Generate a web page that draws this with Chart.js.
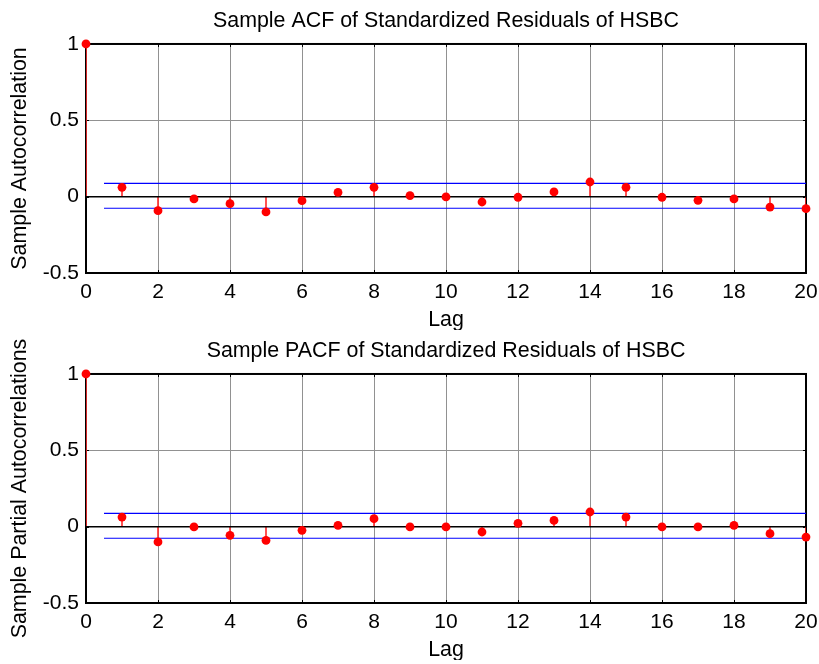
<!DOCTYPE html>
<html>
<head>
<meta charset="utf-8">
<script src="https://cdn.jsdelivr.net/npm/chart.js@4/dist/chart.umd.min.js"></script>
<style>
  body { margin: 0; background: #fff; width: 819px; height: 664px; overflow: hidden; }
  canvas { display: block; }
</style>
</head>
<body>
<canvas id="acfChart" width="819" height="330"></canvas>
<canvas id="pacfChart" width="819" height="330"></canvas>
<script>
// === DATA ===
const lags = [0, 1, 2, 3, 4, 5, 6, 7, 8, 9, 10, 11, 12, 13, 14, 15, 16, 17, 18, 19, 20];
const acfValues = [1, 0.061, -0.092, -0.015, -0.046, -0.100, -0.026, 0.028, 0.061, 0.007,
    -0.002, -0.035, -0.004, 0.031, 0.096, 0.061, -0.004, -0.024, -0.015, -0.068, -0.079];
const pacfValues = [1, 0.063, -0.100, -0.002, -0.057, -0.090, -0.024, 0.009, 0.052, -0.002,
    -0.002, -0.035, 0.022, 0.041, 0.096, 0.063, -0.002, -0.002, 0.009, -0.046, -0.068];
const acfBounds = [0.087, -0.076];
const pacfBounds = [0.087, -0.076];
const boundsStart = 0.5;
const xRange = [0, 20];
const yRange = [-0.5, 1];
const xStep = 2;
const yStep = 0.5;

Chart.defaults.color = '#000';
Chart.defaults.font.family = '"Liberation Sans", Arial, sans-serif';

// box round the plot area plus small inward tick marks on all four sides
const boxPlugin = {
    id: 'box',
    beforeDatasetsDraw(chart) {
        const { ctx, chartArea: a, scales } = chart;
        const tl = 3;
        ctx.save();
        ctx.strokeStyle = '#000';
        ctx.lineWidth = 1;
        ctx.beginPath();
        scales.x.ticks.forEach(t => {
            const px = Math.round(scales.x.getPixelForValue(t.value)) + 0.5;
            ctx.moveTo(px, a.bottom); ctx.lineTo(px, a.bottom - tl);
            ctx.moveTo(px, a.top); ctx.lineTo(px, a.top + tl);
        });
        scales.y.ticks.forEach(t => {
            const py = Math.round(scales.y.getPixelForValue(t.value)) + 0.5;
            ctx.moveTo(a.left, py); ctx.lineTo(a.left + tl, py);
            ctx.moveTo(a.right, py); ctx.lineTo(a.right - tl, py);
        });
        ctx.stroke();
        ctx.lineWidth = 2;
        ctx.strokeRect(a.left, a.top, a.right - a.left, a.bottom - a.top);
        ctx.restore();
    }
};

function makeChart(id, title, yLabel, values, bounds) {
    const pts = lags.map((l, i) => ({ x: l, y: values[i] }));
    const first = lags[0], last = lags[lags.length - 1];
    return new Chart(document.getElementById(id), {
        type: 'scatter',
        data: {
            datasets: [
                {   // stems
                    type: 'bar', data: pts, barThickness: 1,
                    backgroundColor: '#ff3030', borderWidth: 0, order: 5
                },
                {   // baseline
                    type: 'line', data: [{ x: first, y: 0 }, { x: last, y: 0 }],
                    borderColor: '#000', borderWidth: 1.5, pointRadius: 0, order: 4
                },
                {   // upper bound
                    type: 'line', data: [{ x: boundsStart, y: bounds[0] }, { x: last, y: bounds[0] }],
                    borderColor: '#0000ff', borderWidth: 1.2, pointRadius: 0, order: 3
                },
                {   // lower bound
                    type: 'line', data: [{ x: boundsStart, y: bounds[1] }, { x: last, y: bounds[1] }],
                    borderColor: '#0000ff', borderWidth: 1.2, pointRadius: 0, order: 3
                },
                {   // markers
                    type: 'scatter', data: pts, pointRadius: 4.4,
                    pointBackgroundColor: '#ff0000', pointBorderColor: '#ff0000',
                    pointBorderWidth: 0, clip: false, order: 1
                }
            ]
        },
        options: {
            responsive: false,
            animation: false,
            events: [],
            layout: { padding: { top: 0, left: 0, right: 13, bottom: 0 } },
            plugins: {
                legend: { display: false },
                tooltip: { enabled: false },
                title: {
                    display: true, text: title, fullSize: false,
                    font: { size: 21.4, weight: 'normal', lineHeight: 1.2 },
                    padding: { top: 8, bottom: 10.3 }
                }
            },
            scales: {
                x: {
                    type: 'linear', min: xRange[0], max: xRange[1], offset: false,
                    afterFit: s => { s.height = 57; s.paddingLeft = 0; s.paddingRight = 0; },
                    ticks: { stepSize: xStep, padding: 6.4, font: { size: 21 }, maxRotation: 0 },
                    grid: { color: '#919191', lineWidth: 1, drawTicks: false, offset: false },
                    border: { display: false },
                    title: {
                        display: true, text: 'Lag',
                        font: { size: 21.4, lineHeight: 0.9 }, padding: 0
                    }
                },
                y: {
                    type: 'linear', min: yRange[0], max: yRange[1],
                    afterFit: s => { s.width = 86; s.paddingTop = 0; s.paddingBottom = 0; },
                    ticks: { stepSize: yStep, padding: 7, font: { size: 21 }, callback: v => String(v) },
                    grid: { color: '#919191', lineWidth: 1, drawTicks: false },
                    border: { display: false },
                    title: {
                        display: true, text: yLabel,
                        font: { size: 21.4, lineHeight: 1.2 }, padding: { top: 7.2, bottom: 0 }
                    }
                }
            }
        },
        plugins: [boxPlugin]
    });
}

makeChart('acfChart', 'Sample ACF of Standardized Residuals of HSBC', 'Sample Autocorrelation', acfValues, acfBounds);
makeChart('pacfChart', 'Sample PACF of Standardized Residuals of HSBC', 'Sample Partial Autocorrelations', pacfValues, pacfBounds);
</script>
</body>
</html>
